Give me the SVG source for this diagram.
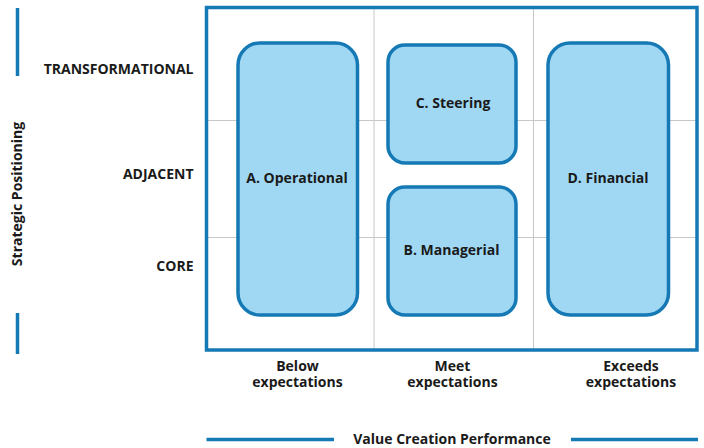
<svg xmlns="http://www.w3.org/2000/svg" width="704" height="448" viewBox="0 0 704 448">
  <style>
    .lbl { font-family: "Open Sans", "Noto Sans", "Liberation Sans", sans-serif; font-weight: 700; font-size: 14px; fill: #1a1a1a; }
    .mid { text-anchor: middle; }
    .end { text-anchor: end; }
    .grid { stroke: #c8c8c8; stroke-width: 1; fill: none; }
    .axis { stroke: #1479b5; stroke-width: 3.5; fill: none; }
    .box rect { fill: #a0d8f3; stroke: #1479b5; stroke-width: 3.5; }
  </style>
  <rect width="704" height="448" fill="#ffffff"/>

  <!-- matrix grid -->
  <g id="grid">
    <line class="grid" x1="374" y1="8" x2="374" y2="350"/>
    <line class="grid" x1="533.5" y1="8" x2="533.5" y2="350"/>
    <line class="grid" x1="207" y1="120.5" x2="697" y2="120.5"/>
    <line class="grid" x1="207" y1="237.5" x2="697" y2="237.5"/>
    <rect class="axis" x="206.5" y="7.5" width="490.5" height="342.5"/>
  </g>

  <!-- axis decorations -->
  <g id="axes">
    <line class="axis" x1="17.5" y1="8" x2="17.5" y2="76"/>
    <line class="axis" x1="17.5" y1="313" x2="17.5" y2="354"/>
    <line class="axis" x1="206.5" y1="439.5" x2="334" y2="439.5"/>
    <line class="axis" x1="571" y1="439.5" x2="698" y2="439.5"/>
    <text class="lbl mid" transform="translate(22 194) rotate(-90)">Strategic Positioning</text>
    <text class="lbl mid" x="452" y="443.5">Value Creation Performance</text>
  </g>

  <!-- row labels -->
  <g id="rows">
    <text class="lbl end" x="193.5" y="73.5">TRANSFORMATIONAL</text>
    <text class="lbl end" x="193.5" y="178.5">ADJACENT</text>
    <text class="lbl end" x="193.5" y="271">CORE</text>
  </g>

  <!-- column labels -->
  <g id="cols">
    <text class="lbl mid" x="297.5" y="370.5">Below</text>
    <text class="lbl mid" x="297.5" y="386.5">expectations</text>
    <text class="lbl mid" x="452.5" y="370.5">Meet</text>
    <text class="lbl mid" x="452.5" y="386.5">expectations</text>
    <text class="lbl mid" x="631" y="370.5">Exceeds</text>
    <text class="lbl mid" x="631" y="386.5">expectations</text>
  </g>

  <!-- quadrant nodes -->
  <g id="node-a" class="box">
    <rect x="238" y="43" width="119.5" height="272" rx="22"/>
    <text class="lbl mid" x="297" y="183">A. Operational</text>
  </g>
  <g id="node-c" class="box">
    <rect x="388" y="45" width="128" height="118" rx="17"/>
    <text class="lbl mid" x="453" y="108">C. Steering</text>
  </g>
  <g id="node-b" class="box">
    <rect x="388" y="187" width="128" height="128" rx="17"/>
    <text class="lbl mid" x="451.5" y="255">B. Managerial</text>
  </g>
  <g id="node-d" class="box">
    <rect x="548" y="43" width="120.5" height="272" rx="22"/>
    <text class="lbl mid" x="608" y="183">D. Financial</text>
  </g>
</svg>
